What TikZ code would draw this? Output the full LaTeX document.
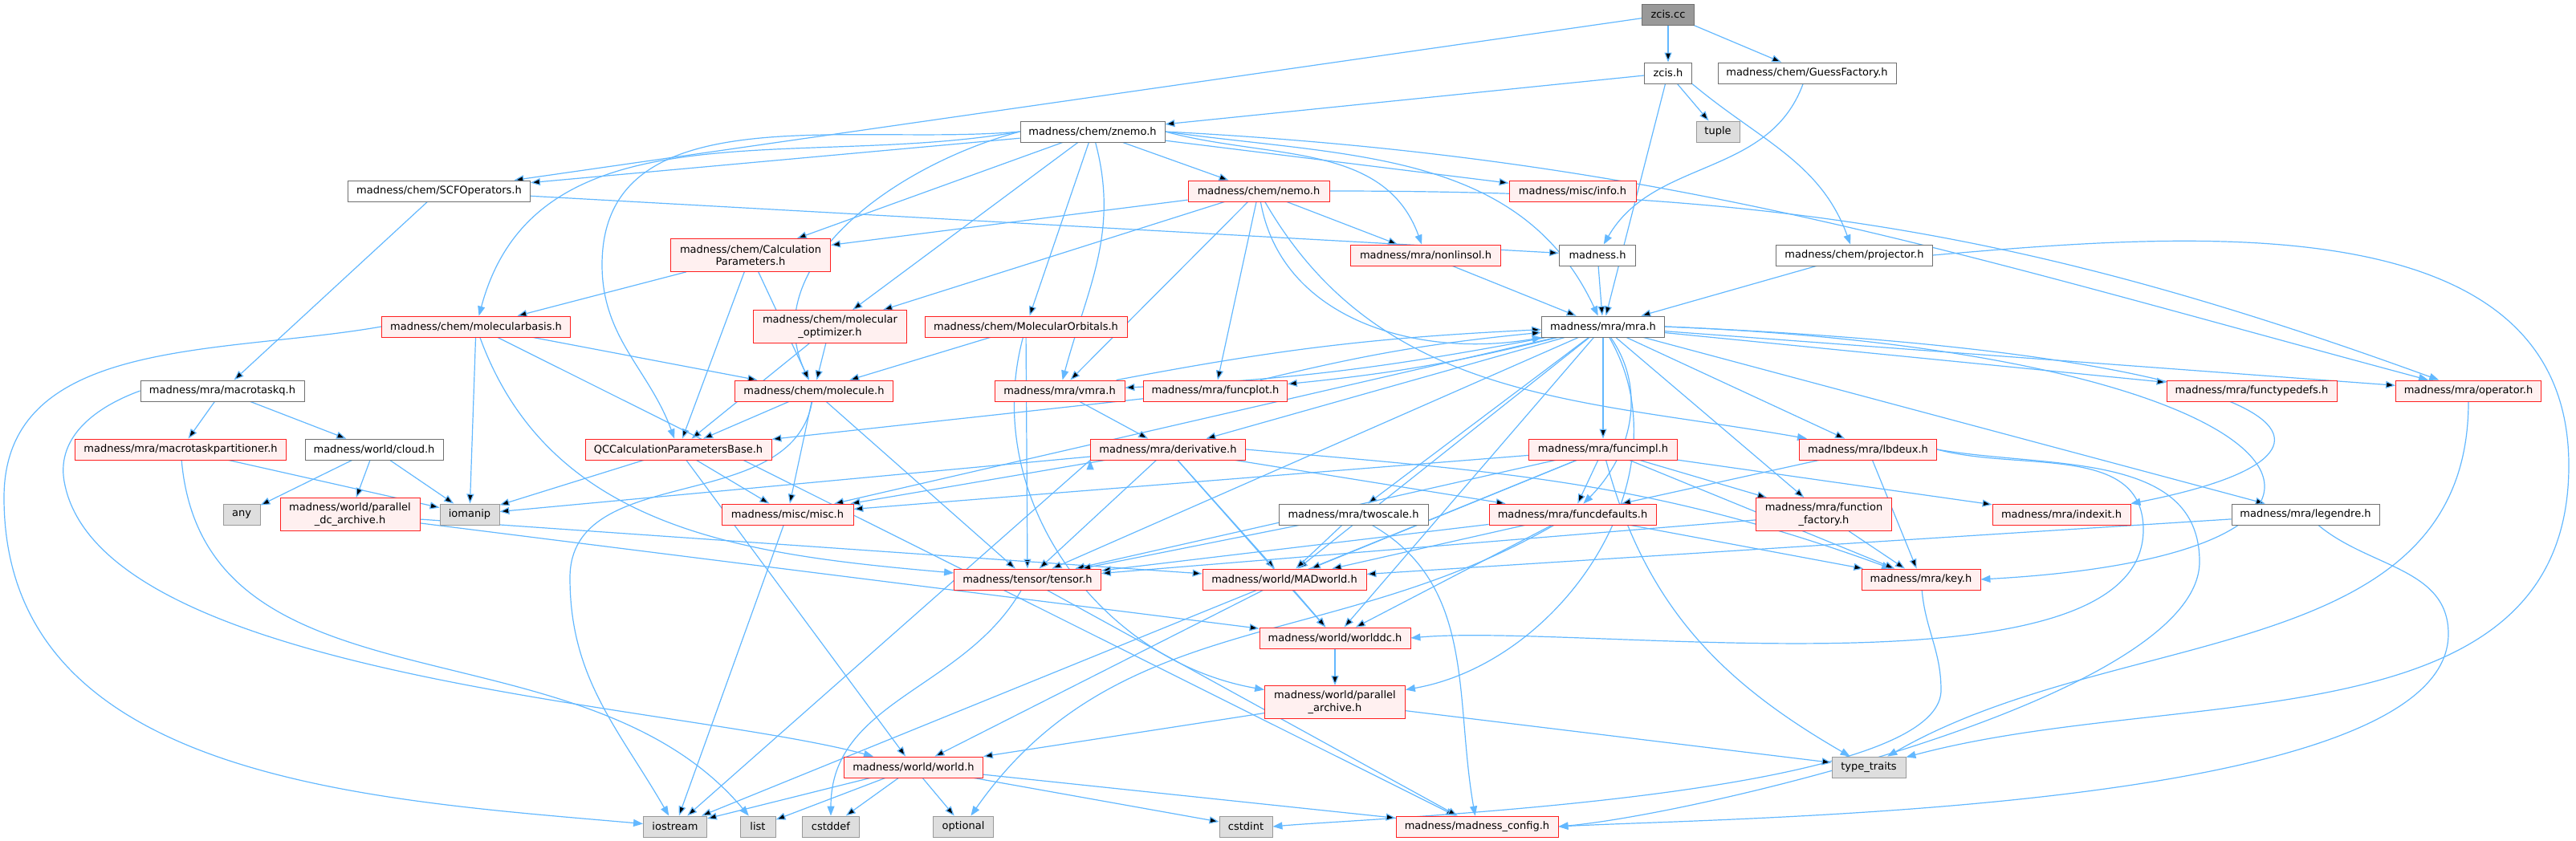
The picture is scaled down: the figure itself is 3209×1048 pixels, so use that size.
\documentclass[tikz,border=0pt]{standalone}
\usepackage{fontspec}
\setmainfont{DejaVu Sans}
\usetikzlibrary{arrows.meta,backgrounds}
\definecolor{edgeblue}{HTML}{63B8FF}
\definecolor{redfill}{HTML}{FFF0F0}
\definecolor{redline}{HTML}{FF2020}
\definecolor{boxgray}{HTML}{707070}
\definecolor{rootfill}{HTML}{999999}
\definecolor{sysfill}{HTML}{DEDEDE}
\definecolor{sysdraw}{HTML}{999999}

\begin{document}
\begin{tikzpicture}[x=0.5pt,y=-0.5pt,>={Triangle[length=6pt,width=4.5pt]},
    filebox/.style={draw,rectangle,line width=0.45pt,minimum height=13pt,inner sep=1pt,font=\fontsize{6.5}{7.8}\selectfont},
    twoline/.style={minimum height=20.5pt,align=center},
    plainbox/.style={filebox,draw=boxgray,fill=white},
    redbox/.style={filebox,draw=redline,fill=redfill,line width=0.4pt},
    sysbox/.style={filebox,draw=sysdraw,fill=sysfill},
    rootbox/.style={filebox,draw=boxgray,fill=rootfill},
    dep/.style={->,draw=edgeblue,line width=0.6pt}]
    \useasboundingbox (0,0) rectangle (3209,1048);

    \node[rootbox,minimum width=32.5pt] (zcc) at (2078,18) {zcis.cc};
    \node[plainbox,minimum width=29.5pt] (zch) at (2078,91) {zcis.h};
    \node[plainbox,minimum width=111pt] (guess) at (2251,91) {madness/chem/GuessFactory.h};
    \node[sysbox,minimum width=27pt] (tuple) at (2140,164) {tuple};
    \node[plainbox,minimum width=90pt] (znemo) at (1361,164) {madness/chem/znemo.h};
    \node[plainbox,minimum width=113.5pt] (scfop) at (547,238) {madness/chem/SCFOperators.h};
    \node[redbox,minimum width=88pt] (nemo) at (1568,238) {madness/chem/nemo.h};
    \node[redbox,minimum width=79pt] (info) at (1959,238) {madness/misc/info.h};
    \node[redbox,twoline,minimum width=99.5pt] (calcpar) at (935,318) {madness/chem/Calculation\\Parameters.h};
    \node[redbox,minimum width=93.5pt] (nonlin) at (1776,318) {madness/mra/nonlinsol.h};
    \node[plainbox,minimum width=47.5pt] (madh) at (1990,318) {madness.h};
    \node[plainbox,minimum width=97.5pt] (proj) at (2310,318) {madness/chem/projector.h};
    \node[redbox,minimum width=117.5pt] (molbasis) at (593,407) {madness/chem/molecularbasis.h};
    \node[redbox,twoline,minimum width=95.5pt] (molopt) at (1034,407) {madness/chem/molecular\\\_optimizer.h};
    \node[redbox,minimum width=126pt] (molorb) at (1278,407) {madness/chem/MolecularOrbitals.h};
    \node[plainbox,minimum width=76.5pt] (mra) at (1997,407) {madness/mra/mra.h};
    \node[plainbox,minimum width=102pt] (mtaskq) at (277,487) {madness/mra/macrotaskq.h};
    \node[redbox,minimum width=98.5pt] (molecule) at (1014,487) {madness/chem/molecule.h};
    \node[redbox,minimum width=81pt] (vmra) at (1320,487) {madness/mra/vmra.h};
    \node[redbox,minimum width=89.5pt] (funcplot) at (1514,487) {madness/mra/funcplot.h};
    \node[redbox,minimum width=106pt] (functypedefs) at (2805,487) {madness/mra/functypedefs.h};
    \node[redbox,minimum width=90.5pt] (oper) at (3075,487) {madness/mra/operator.h};
    \node[redbox,minimum width=131.5pt] (mtaskpart) at (225,560) {madness/mra/macrotaskpartitioner.h};
    \node[plainbox,minimum width=86pt] (cloud) at (466,560) {madness/world/cloud.h};
    \node[redbox,minimum width=116pt] (qcbase) at (845,560) {QCCalculationParametersBase.h};
    \node[redbox,minimum width=96.5pt] (deriv) at (1455,560) {madness/mra/derivative.h};
    \node[redbox,minimum width=92.5pt] (funcimpl) at (1997,560) {madness/mra/funcimpl.h};
    \node[redbox,minimum width=85.5pt] (lbdeux) at (2327,560) {madness/mra/lbdeux.h};
    \node[sysbox,minimum width=23pt] (any) at (301,641) {any};
    \node[redbox,twoline,minimum width=87pt] (pdcarch) at (436,641) {madness/world/parallel\\\_dc\_archive.h};
    \node[sysbox,minimum width=37pt] (iomanip) at (585,641) {iomanip};
    \node[redbox,minimum width=82pt] (misc) at (981,641) {madness/misc/misc.h};
    \node[plainbox,minimum width=93pt] (twoscale) at (1686,641) {madness/mra/twoscale.h};
    \node[redbox,minimum width=104pt] (funcdef) at (1959,641) {madness/mra/funcdefaults.h};
    \node[redbox,twoline,minimum width=84.5pt] (funcfact) at (2272,641) {madness/mra/function\\\_factory.h};
    \node[redbox,minimum width=86pt] (indexit) at (2568,641) {madness/mra/indexit.h};
    \node[plainbox,minimum width=92pt] (legendre) at (2872,641) {madness/mra/legendre.h};
    \node[redbox,minimum width=91.5pt] (tensor) at (1280,722) {madness/tensor/tensor.h};
    \node[redbox,minimum width=102pt] (madworld) at (1600,722) {madness/world/MADworld.h};
    \node[redbox,minimum width=74pt] (key) at (2393,722) {madness/mra/key.h};
    \node[redbox,minimum width=94pt] (worlddc) at (1663,795) {madness/world/worlddc.h};
    \node[redbox,twoline,minimum width=87.5pt] (parch) at (1663,875) {madness/world/parallel\\\_archive.h};
    \node[redbox,minimum width=86.5pt] (world) at (1138,956) {madness/world/world.h};
    \node[sysbox,minimum width=46pt] (typetraits) at (2328,956) {type\_traits};
    \node[sysbox,minimum width=39.5pt] (iostream) at (841,1030) {iostream};
    \node[sysbox,minimum width=22pt] (list) at (944,1030) {list};
    \node[sysbox,minimum width=35.5pt] (cstddef) at (1035,1030) {cstddef};
    \node[sysbox,minimum width=37.5pt] (optional) at (1200,1030) {optional};
    \node[sysbox,minimum width=33pt] (cstdint) at (1552,1030) {cstdint};
    \node[redbox,minimum width=101pt] (config) at (1840,1030) {madness/madness\_config.h};

    \begin{scope}[on background layer]
    \path[dep] (zcc) edge (zch) edge (guess) edge (scfop);
    \path[dep] (zch) edge (znemo) edge (tuple) edge (mra);
    \draw[dep] (zch.south east) to[out=-40,in=110] (proj);
    \draw[dep] (guess) to[out=-110,in=60] (madh);
    \path[dep] (znemo) edge (scfop) edge (calcpar) edge (molopt) edge (molorb) edge (nemo) edge (info);
    \draw[dep] (znemo.west) to[out=190,in=75] (molbasis);
    \draw[dep] (znemo.west) to[out=185,in=90] (750,330) to[out=-90,in=110] (qcbase);
    \draw[dep] (znemo.west) to[out=195,in=115] (molecule);
    \draw[dep] (znemo) to[out=-75,in=75] (vmra);
    \draw[dep] (znemo.east) to[out=-15,in=110] (nonlin);
    \draw[dep] (znemo.east) to[out=-8,in=115] (mra);
    \draw[dep] (znemo.east) to[out=-3,in=165] (oper);
    \path[dep] (nemo) edge (calcpar) edge (molopt) edge (vmra) edge (funcplot) edge (nonlin);
    \draw[dep] (nemo) to[out=-80,in=190] (mra);
    \draw[dep] (nemo) to[out=-60,in=170] (lbdeux);
    \draw[dep] (nemo.east) to[out=0,in=160] (oper);
    \path[dep] (scfop) edge (madh) edge (mtaskq);
    \path[dep] (calcpar) edge (molbasis) edge (qcbase) edge (molecule);
    \path[dep] (molopt) edge (molecule) edge (qcbase);
    \path[dep] (molorb) edge (molecule) edge (tensor);
    \draw[dep] (molorb) to[out=-105,in=170] (parch);
    \path[dep] (molbasis) edge (molecule) edge (iomanip) edge (config);
    \draw[dep] (molbasis.west) to[out=190,in=90] (5,620) to[out=-90,in=175] (iostream);
    \draw[dep] (molbasis) to[out=-70,in=175] (tensor);
    \path[dep] (molecule) edge (qcbase) edge (misc) edge (tensor);
    \draw[dep] (molecule) to[out=-100,in=90] (710,720) to[out=-90,in=120] (iostream);
    \path[dep] (qcbase) edge (iomanip) edge (misc) edge (world);
    \path[dep] (nonlin) edge (mra);
    \path[dep] (madh) edge (mra);
    \path[dep] (proj) edge (mra);
    \draw[dep] (proj.east) to[out=5,in=90] (3200,580) to[out=-90,in=15] (typetraits);
    \path[dep] (mtaskq) edge (mtaskpart) edge (cloud);
    \draw[dep] (mtaskq.west) to[out=200,in=100] (80,600) to[out=-80,in=165,looseness=0.6] (world);
    \path[dep] (mtaskpart) edge (iomanip);
    \draw[dep] (mtaskpart) to[out=-85,in=130] (list);
    \path[dep] (cloud) edge (any) edge (pdcarch) edge (iomanip);
    \path[dep] (pdcarch) edge (madworld) edge (worlddc);
    \path[dep] (mra) edge[bend left=4] (vmra) edge[bend left=4] (funcplot) edge (functypedefs) edge (oper) edge (deriv) edge (funcimpl) edge (lbdeux) edge (twoscale) edge (funcfact) edge (legendre) edge (tensor) edge (madworld) edge (worlddc) edge (misc);
    \draw[dep] (mra) to[out=-55,in=45] (funcdef);
    \draw[dep] (mra.east) .. controls (2850,440) and (3000,560) .. (indexit.north east);
    \draw[dep] (mra.east) .. controls (2900,440) and (3050,690) .. (key.east);
    \draw[dep] (mra) to[out=-60,in=10] (parch);
    \path[dep] (vmra) edge[bend left=4] (mra) edge (deriv);
    \path[dep] (funcplot) edge[bend left=4] (mra) edge (qcbase);
    \path[dep] (deriv) edge (iomanip) edge (misc) edge (tensor) edge (madworld) edge (worlddc) edge (funcdef);
    \path[dep] (deriv.south west) edge (iostream);
    \draw[dep] (deriv.east) to[out=-5,in=160] (key);
    \path[dep] (funcimpl) edge (iostream) edge (madworld) edge (misc) edge (tensor) edge (indexit) edge (key) edge (funcdef) edge (funcfact);
    \draw[dep] (funcimpl) to[out=-75,in=150] (typetraits);
    \path[dep] (lbdeux) edge (funcdef) edge (key);
    \draw[dep] (lbdeux.east) to[out=-15,in=90] (2670,660) to[out=-90,in=5,looseness=0.6] (worlddc.east);
    \draw[dep] (lbdeux.east) to[out=-10,in=90] (2740,700) to[out=-90,in=5,looseness=0.5] (config.east);
    \path[dep] (twoscale) edge (tensor) edge (madworld);
    \draw[dep] (twoscale) to[out=-30,in=100] (config);
    \path[dep] (funcdef) edge (tensor) edge (madworld) edge (worlddc) edge (key);
    \draw[dep] (funcdef) to[out=-150,in=55] (optional);
    \path[dep] (funcfact) edge (key) edge (tensor);
    \path[dep] (legendre) edge (madworld);
    \draw[dep] (legendre) to[out=-40,in=90] (3050,790) to[out=-90,in=3,looseness=0.5] (config.east);
    \path[dep] (tensor) edge (config);
    \draw[dep] (tensor) to[out=-120,in=90] (cstddef);
    \path[dep] (madworld) edge (worlddc) edge (world);
    \draw[dep] (key) to[out=-85,in=90] (2418,860) to[out=-90,in=5,looseness=0.4] (cstdint.east);
    \path[dep] (worlddc) edge (parch);
    \path[dep] (parch) edge (world) edge (typetraits);
    \path[dep] (world) edge (iostream) edge (list) edge (cstddef) edge (optional) edge (cstdint) edge (config);
    \path[dep] (misc) edge (iostream);
    \draw[dep] (oper) to[out=-90,in=30] (typetraits);
    \end{scope}
\end{tikzpicture}
\end{document}
